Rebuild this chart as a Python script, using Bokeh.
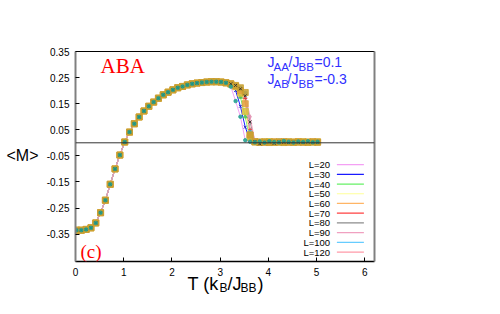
from bokeh.plotting import figure
from bokeh.models import (Range1d, FixedTicker, LinearAxis, Label, Span,
                          NumeralTickFormatter)
from bokeh.embed import file_html
from bokeh.resources import INLINE

# ---------------- data ----------------
T = [0.02, 0.12, 0.22, 0.32, 0.42, 0.52, 0.62, 0.72, 0.82, 0.92,
     1.02, 1.12, 1.22, 1.32, 1.42, 1.52, 1.62, 1.72, 1.82, 1.92,
     2.02, 2.12, 2.22, 2.32, 2.42, 2.52, 2.62, 2.72, 2.82, 2.92,
     3.02, 3.12, 3.22, 3.32, 3.42, 3.52, 3.62, 3.72, 3.82, 3.92,
     4.02, 4.12, 4.22, 4.32, 4.42, 4.52, 4.62, 4.72, 4.82, 4.92, 5.02]

# shared low-temperature part (T = 0.02 .. 3.12)
m_common = [-0.335, -0.335, -0.332, -0.326, -0.307, -0.268, -0.220, -0.159, -0.100, -0.047,
            0.003, 0.041, 0.073, 0.099, 0.122, 0.140, 0.156, 0.171, 0.184, 0.194,
            0.203, 0.211, 0.216, 0.222, 0.226, 0.229, 0.231, 0.233, 0.234, 0.234,
            0.233, 0.230]

# size-dependent part (T = 3.22 .. 5.02)
tail_L20 = [0.215, 0.160, 0.100, 0.010, 0.004, 0.002, 0.005, 0.001, 0.006, 0.003,
            0.002, 0.007, 0.004, 0.001, 0.005, 0.003, 0.006, 0.002, 0.004]
tail_L30 = [0.222, 0.200, 0.140, 0.060, 0.010, 0.004, 0.001, 0.005, 0.003, 0.006,
            0.002, 0.004, 0.006, 0.003, 0.001, 0.005, 0.004, 0.002, 0.005]
tail_L40 = [0.224, 0.210, 0.175, 0.100, 0.015, 0.004, 0.006, 0.002, 0.004, 0.001,
            0.005, 0.003, 0.002, 0.006, 0.004, 0.003, 0.001, 0.005, 0.003]
tail_L50 = [0.225, 0.215, 0.190, 0.120, 0.020, 0.003, 0.002, 0.004, 0.005, 0.002,
            0.003, 0.001, 0.004, 0.002, 0.005, 0.004, 0.002, 0.003, 0.004]
tail_L60 = [0.226, 0.218, 0.200, 0.150, 0.030, 0.004, 0.003, 0.002, 0.001, 0.004,
            0.003, 0.005, 0.002, 0.003, 0.004, 0.002, 0.003, 0.004, 0.003]
tail_L70 = [0.226, 0.219, 0.205, 0.170, 0.050, 0.004, 0.001, 0.003, 0.002, 0.003,
            0.004, 0.002, 0.003, 0.001, 0.002, 0.003, 0.004, 0.002, 0.003]
tail_L80 = [0.226, 0.220, 0.207, 0.180, 0.080, 0.005, -0.004, 0.002, 0.003, -0.002,
            0.003, 0.002, 0.001, 0.003, 0.002, 0.001, 0.003, 0.002, 0.002]
tail_L90 = [0.226, 0.220, 0.209, 0.186, 0.100, 0.006, 0.002, 0.003, 0.002, 0.001,
            0.002, 0.003, 0.002, 0.002, 0.001, 0.002, 0.003, 0.001, 0.002]
tail_L100 = [0.226, 0.220, 0.210, 0.190, 0.040, 0.005, 0.003, 0.006, 0.002, 0.004,
             0.008, 0.003, 0.002, 0.004, 0.003, 0.002, 0.004, 0.003, 0.002]
tail_L120 = [0.226, 0.220, 0.211, 0.193, 0.030, 0.004, 0.002, 0.003, 0.002, 0.002,
             0.003, 0.002, 0.003, 0.002, 0.002, 0.003, 0.002, 0.003, 0.002]

sizes = ["L=20", "L=30", "L=40", "L=50", "L=60", "L=70", "L=80", "L=90", "L=100", "L=120"]
tails = [tail_L20, tail_L30, tail_L40, tail_L50, tail_L60, tail_L70, tail_L80,
         tail_L90, tail_L100, tail_L120]

line_colors = ["#f4a0f4", "#1a1aff", "#66f066", "#ffff99", "#ffb565",
               "#ff4040", "#8c8c8c", "#f0a0c0", "#66ccff", "#ff9aa8"]
marker_types = ["circle", "x", "triangle", "square", "square",
                "cross", "x", "diamond", "circle", "square"]
marker_colors = ["#1f9f8f", "#2020c0", "#50c050", "#d8c040", "#e0a040",
                 "#e04040", "#303030", "#e090b0", "#40b0d0", "#c8a030"]
marker_sizes = [3.5, 4, 4, 6, 6, 4, 4, 4, 4, 6]
draw_order = [1, 2, 5, 7, 8, 3, 4, 9, 6, 0]

x_ticks = [0, 1, 2, 3, 4, 5, 6]
y_ticks = [-0.35, -0.25, -0.15, -0.05, 0.05, 0.15, 0.25, 0.35]

# ---------------- figure ----------------
p = figure(width=490, height=300, x_range=Range1d(0, 6.2), y_range=Range1d(-0.455, 0.35),
           output_backend="svg", toolbar_location=None,
           min_border_left=75, min_border_right=116, min_border_top=51, min_border_bottom=39)
p.grid.visible = False
p.outline_line_color = None
p.background_fill_color = "white"
p.border_fill_color = "white"

font = "Liberation Sans"
for ax in (p.xaxis[0], p.yaxis[0]):
    ax.major_tick_in = 4
    ax.major_tick_out = 0
    ax.minor_tick_line_color = None
    ax.major_label_text_font = font
    ax.major_label_text_font_size = "10px"
    ax.major_label_text_color = "black"
    ax.major_tick_line_color = "black"

p.xaxis.ticker = FixedTicker(ticks=x_ticks)
p.xaxis.formatter = NumeralTickFormatter(format="0")
p.xaxis.axis_line_color = "black"
p.xaxis.axis_line_width = 1.5
p.xaxis.major_label_standoff = 6

p.yaxis.ticker = FixedTicker(ticks=y_ticks)
p.yaxis.formatter = NumeralTickFormatter(format="0.00")
p.yaxis.axis_line_color = "#808080"
p.yaxis.axis_line_width = 2
p.yaxis.major_label_standoff = 6

top_ax = LinearAxis(ticker=FixedTicker(ticks=[]), axis_line_color="black", axis_line_width=1,
                    major_tick_line_color=None, minor_tick_line_color=None,
                    major_label_text_font_size="0px")
p.add_layout(top_ax, "above")
right_ax = LinearAxis(ticker=FixedTicker(ticks=[]), axis_line_color="#808080", axis_line_width=2,
                      major_tick_line_color=None, minor_tick_line_color=None,
                      major_label_text_font_size="0px")
p.add_layout(right_ax, "right")

p.add_layout(Span(location=0, dimension="width", line_color="#333333", line_width=1))

# lines
line_renderers = []
for i in range(len(sizes)):
    m = m_common + tails[i]
    r = p.line(T, m, line_color=line_colors[i], line_width=1)
    line_renderers.append(r)

# markers
for i in draw_order:
    m = m_common + tails[i]
    mk = marker_types[i]
    if mk in ("x", "cross"):
        p.scatter(T, m, marker=mk, size=marker_sizes[i], line_color=marker_colors[i],
                  line_width=1)
    else:
        p.scatter(T, m, marker=mk, size=marker_sizes[i], fill_color=marker_colors[i],
                  line_color=marker_colors[i], fill_alpha=0.85, line_width=0.8)

# texts
def lab(text, x, y, dx, dy, size, color="black", fnt=font, align="left",
        baseline="alphabetic", place="center"):
    l = Label(x=x, y=y, x_offset=dx, y_offset=dy, text=text, text_font=fnt,
              text_font_size=size, text_color=color, text_align=align,
              text_baseline=baseline)
    if place == "center":
        p.add_layout(l)
    else:
        p.add_layout(l, place)

# manual legend: text right-aligned, line sample to its right (gnuplot style)
leg_x_text = 5.28      # right edge of legend text (data x)
leg_x0, leg_x1 = 5.42, 5.98
leg_y_top = -0.0835    # first row (data y)
leg_step = 0.03726     # row pitch (data y)
for i in range(len(sizes)):
    yy = leg_y_top - i * leg_step
    lab(sizes[i], leg_x_text, yy, 0, 0, "9.5px", align="right", baseline="middle")
    p.segment(x0=[leg_x0], y0=[yy], x1=[leg_x1], y1=[yy], line_color=line_colors[i],
              line_width=1.2)

# texts outside the frame live in side panels (not clipped); the wide right
# border has room for them without changing the frame size
lab("<M>", 0, -0.05, -53, 0, "16px", align="center", baseline="middle", place="left")
xs = 6.5
lab("T (k", 0, -0.455, 112, -29 + xs, "18px", place="right")
lab("B", 0, -0.455, 144, -33 + xs, "12px", place="right")
lab("/J", 0, -0.455, 152, -29 + xs, "18px", place="right")
lab("BB", 0, -0.455, 165, -33 + xs, "12px", place="right")
lab(")", 0, -0.455, 182, -29 + xs, "18px", place="right")

# panel texts
lab("ABA", 0, 0.35, 25, -14, "21px", color="#ff0000", fnt="Liberation Serif")
lab("(c)", 0, -0.455, 5, 10, "19px", color="#ff0000", fnt="Liberation Serif")

blue = "#3030ff"
js = 5.5
lab("J", 0, 0.35, 192, -16 + js, "14px", color=blue)
lab("AA", 0, 0.35, 198, -21 + js, "11.5px", color=blue)
lab("/J", 0, 0.35, 213, -16 + js, "14px", color=blue)
lab("BB", 0, 0.35, 223, -21 + js, "11.5px", color=blue)
lab("=0.1", 0, 0.35, 239, -16 + js, "14px", color=blue)

lab("J", 0, 0.35, 192, -32.5 + js, "14px", color=blue)
lab("AB", 0, 0.35, 198, -37.5 + js, "11.5px", color=blue)
lab("/J", 0, 0.35, 212, -32.5 + js, "14px", color=blue)
lab("BB", 0, 0.35, 223, -37.5 + js, "11.5px", color=blue)
lab("=-0.3", 0, 0.35, 239, -32.5 + js, "14px", color=blue)

open("out.html", "w").write(file_html(p, INLINE))
